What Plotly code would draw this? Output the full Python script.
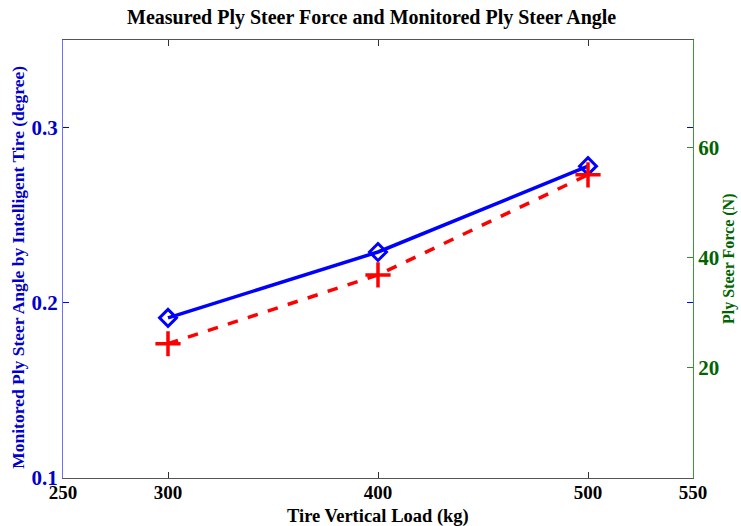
import plotly.graph_objects as go

loads = [300, 400, 500]
angle = [0.1914, 0.229, 0.278]
force = [24.4, 36.9, 55.1]
x_ticks = [250, 300, 400, 500, 550]
left_ticks = [0.1, 0.2, 0.3]
right_ticks = [20, 40, 60]

FONT = "Liberation Serif"
BLUE = "#0000ff"
GREEN = "#006400"

fig = go.Figure()
fig.add_trace(go.Scatter(
    x=loads, y=angle, mode="lines+markers",
    line=dict(color=BLUE, width=3.5),
    marker=dict(symbol="diamond-open", size=13, color=BLUE, line=dict(width=3, color=BLUE)),
    yaxis="y", showlegend=False))
fig.add_trace(go.Scatter(
    x=loads, y=force, mode="lines+markers",
    line=dict(color="#ff0000", width=3.5, dash="dash"),
    marker=dict(symbol="cross-thin", size=18, color="#ff0000", line=dict(width=3.5, color="#ff0000")),
    yaxis="y2", showlegend=False))

fig.update_layout(
    width=741, height=526,
    margin=dict(l=63, r=48, t=40, b=48),
    paper_bgcolor="white", plot_bgcolor="white",
    font=dict(family=FONT),
    xaxis=dict(range=[250, 550], tickvals=x_ticks, ticktext=[f"<b>{v}</b>" for v in x_ticks],
               ticks="inside", ticklen=6, tickcolor="#333", mirror="ticks",
               showline=True, linecolor="#555", linewidth=1, showgrid=False, zeroline=False,
               ticklabelstandoff=-3,
               tickfont=dict(size=19, color="black", family=FONT)),
    yaxis=dict(range=[0.1, 0.35], tickvals=left_ticks, ticktext=[f"<b>{v}</b>" for v in left_ticks],
               ticks="inside", ticklen=6, tickcolor=BLUE, mirror="ticks",
               showline=True, linecolor="#7070ff", linewidth=1, showgrid=False, zeroline=False,
               tickfont=dict(size=21, color="#0000cc", family=FONT)),
    yaxis2=dict(range=[0, 79.6], overlaying="y", side="right",
                tickvals=right_ticks, ticktext=[f"<b>{v}</b>" for v in right_ticks],
                ticks="inside", ticklen=6, tickcolor="#2e8b2e",
                showline=True, linecolor="#3a9a3a", linewidth=1, showgrid=False, zeroline=False,
                tickfont=dict(size=21, color=GREEN, family=FONT)),
    annotations=[
        dict(text="<b>Measured Ply Steer Force and Monitored Ply Steer Angle</b>",
             xref="paper", yref="paper", x=0.49, y=1.0, yshift=23, showarrow=False,
             xanchor="center", yanchor="middle",
             font=dict(size=20, color="black", family=FONT)),
        dict(text="<b>Tire Vertical Load (kg)</b>",
             xref="paper", yref="paper", x=0.5, y=0, yshift=-38, showarrow=False,
             xanchor="center", yanchor="middle",
             font=dict(size=18.5, color="black", family=FONT)),
        dict(text="<b>Monitored Ply Steer Angle by Intelligent Tire (degree)</b>",
             xref="paper", yref="paper", x=0, xshift=-45, y=0.48, showarrow=False,
             xanchor="center", yanchor="middle", textangle=-90,
             font=dict(size=17.5, color="#0000cc", family=FONT)),
        dict(text="<b>Ply Steer Force (N)</b>",
             xref="paper", yref="paper", x=1, xshift=36, y=0.50, showarrow=False,
             xanchor="center", yanchor="middle", textangle=-90,
             font=dict(size=16, color=GREEN, family=FONT)),
    ],
)

fig.write_html("out.html")
